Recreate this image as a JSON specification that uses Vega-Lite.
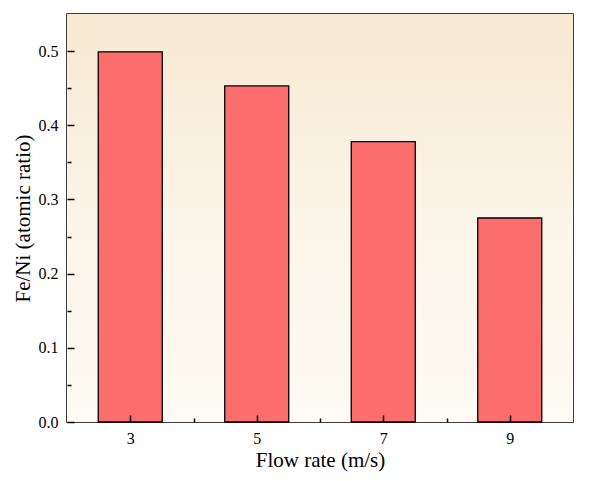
{
  "$schema": "https://vega.github.io/schema/vega-lite/v6.json",
  "width": 506,
  "height": 408,
  "autosize": "none",
  "padding": {"left": 67, "top": 14, "right": 18, "bottom": 59},
  "background": "white",
  "config": {
    "view": {"stroke": "black", "strokeWidth": 1.5},
    "font": "Liberation Serif",
    "axis": {
      "domain": false,
      "grid": false,
      "labelFont": "Liberation Serif",
      "titleFont": "Liberation Serif",
      "labelFontSize": 16,
      "titleFontSize": 21,
      "titleFontWeight": "normal",
      "labelColor": "black",
      "titleColor": "black",
      "tickColor": "black",
      "tickWidth": 1.5
    }
  },
  "data": {
    "values": [
      {"flow": 3, "ratio": 0.499},
      {"flow": 5, "ratio": 0.453},
      {"flow": 7, "ratio": 0.378},
      {"flow": 9, "ratio": 0.275}
    ]
  },
  "layer": [
    {
      "mark": {
        "type": "rect",
        "color": {
          "gradient": "linear",
          "x1": 0, "y1": 0, "x2": 0, "y2": 1,
          "stops": [
            {"offset": 0, "color": "#F7E9D2"},
            {"offset": 0.5, "color": "#FBF4E8"},
            {"offset": 1, "color": "#FEFBF4"}
          ]
        }
      },
      "encoding": {
        "x": {"datum": 2, "type": "quantitative", "scale": {"domain": [2, 10], "nice": false, "zero": false, "padding": 0}, "axis": null},
        "x2": {"datum": 10},
        "y": {"datum": 0, "type": "quantitative", "scale": {"domain": [0, 0.55], "nice": false, "padding": 0}, "axis": null},
        "y2": {"datum": 0.55}
      }
    },
    {
      "mark": {"type": "bar", "width": 64, "color": "#FC6D6D", "stroke": "black", "strokeWidth": 1.3},
      "encoding": {
        "x": {
          "field": "flow",
          "type": "quantitative",
          "axis": {
            "orient": "bottom",
            "values": [3, 5, 7, 9],
            "title": "Flow rate (m/s)",
            "tickSize": -7,
            "labelPadding": 15,
            "titlePadding": 3,
            "zindex": 2
          }
        },
        "y": {
          "field": "ratio",
          "type": "quantitative",
          "axis": {
            "orient": "left",
            "values": [0, 0.1, 0.2, 0.3, 0.4, 0.5],
            "format": ".1f",
            "title": "Fe/Ni (atomic ratio)",
            "tickSize": -7,
            "labelPadding": 16,
            "titlePadding": 5,
            "zindex": 2
          }
        }
      }
    },
    {
      "mark": {"type": "bar", "opacity": 0},
      "encoding": {
        "x": {
          "field": "flow",
          "type": "quantitative",
          "axis": {"orient": "bottom", "values": [4, 6, 8], "labels": false, "title": null, "tickSize": -4, "zindex": 2}
        },
        "y": {
          "field": "ratio",
          "type": "quantitative",
          "axis": {"orient": "left", "values": [0.05, 0.15, 0.25, 0.35, 0.45], "labels": false, "title": null, "tickSize": -4, "zindex": 2}
        }
      }
    }
  ],
  "resolve": {"axis": {"x": "independent", "y": "independent"}}
}
